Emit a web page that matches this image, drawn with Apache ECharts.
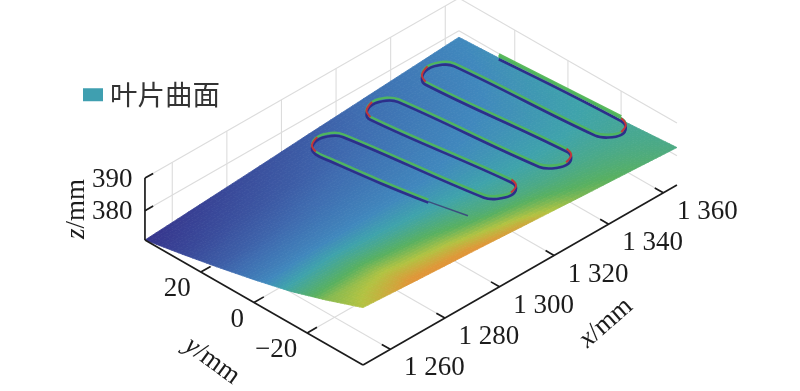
<!DOCTYPE html>
<html>
<head>
<meta charset="utf-8">
<style>html,body{margin:0;padding:0;background:#fff}#c{width:800px;height:391px;filter:blur(0.4px)}</style>
<script src="https://cdn.jsdelivr.net/npm/echarts@6/dist/echarts.min.js"></script>
</head>
<body>
<div id="c"></div>
<script>
// ---- data ----
var seriesName = '叶片曲面';
var meshX = [1250, 1270, 1290, 1310, 1330, 1350, 1365];
var meshY = [41, 27, 14, 0, -14, -27, -41];
var meshZ = [
  [371.0, 372.2, 373.4, 374.7, 375.9, 377.1, 378.0],
  [373.2, 374.0, 374.9, 375.8, 376.7, 377.7, 378.6],
  [375.4, 376.1, 376.7, 377.4, 378.0, 378.6, 379.2],
  [378.0, 378.3, 378.7, 379.0, 379.4, 379.7, 380.0],
  [380.9, 380.9, 380.9, 380.9, 380.8, 380.8, 380.8],
  [384.4, 383.9, 383.4, 382.9, 382.5, 382.0, 381.6],
  [388.6, 387.5, 386.5, 385.4, 384.3, 383.3, 382.5]
];
var meshShade = [
  [0.00, 0.06, 0.12, 0.18, 0.26, 0.34, 0.40],
  [0.08, 0.13, 0.18, 0.24, 0.31, 0.37, 0.43],
  [0.18, 0.22, 0.27, 0.31, 0.36, 0.41, 0.46],
  [0.34, 0.37, 0.38, 0.39, 0.42, 0.45, 0.49],
  [0.54, 0.57, 0.53, 0.50, 0.49, 0.50, 0.52],
  [0.71, 0.75, 0.70, 0.61, 0.57, 0.56, 0.55],
  [0.77, 0.90, 0.90, 0.84, 0.70, 0.63, 0.58]
];
var trackX = [1305,1304.6,1304.5,1304.8,1304.8,1306.3,1309.8,1313.3,1314.8,1314.8,1316.3,1319.8,1323.3,1324.8,1324.8,1326.3,1329.9,1333.5,1335,1335,1336.5,1340,1343.5,1345,1345,1346.6,1350.2,1354,1355.5,1355.5,1357,1360.2,1363.5,1365,1365];
var trackY = [-24,-9.5,8,27,33,36,37.6,36,33,-20,-23.3,-25,-23.3,-20,33,36,37.6,36,33,-20,-23.3,-25,-23.3,-20,33,36,37.6,36,33,-20,-23.3,-25,-23.3,-20,26];
var redRuns = [[4,6],[11,13],[14,16],[21,23],[24,26],[31,33]];
var xTicks = [1260, 1280, 1300, 1320, 1340, 1360];
var xTickLabels = ['1 260', '1 280', '1 300', '1 320', '1 340', '1 360'];
var yTicks = [20, 0, -20];
var yTickLabels = ['20', '0', '−20'];
var zTicks = [380, 390];
var zTickLabels = ['380', '390'];

// ---- view of the 3D box ----
var box = {xMin: 1250, xMax: 1365, yMin: -41, yMax: 41, zMin: 371, zMax: 390};
var view = {ox: 363, oy: 365, xx: 2.730, xy: -1.565, yx: -2.659, yy: -1.524, zy: -3.26};
var shadeStops = [
  [0.00, [54, 52, 140]], [0.25, [63, 108, 176]], [0.40, [64, 136, 189]],
  [0.50, [63, 163, 171]], [0.65, [88, 176, 96]], [0.77, [178, 195, 66]], [0.88, [224, 150, 56]], [1.00, [224, 150, 56]]
];
var FONT = '"Liberation Serif", "Times New Roman", serif';
var GRID = '#dcdcdc', INK = '#1c1c1c';

function project(x, y, z) {
  var dx = x - box.xMin, dy = y - box.yMin, dz = z - box.zMin;
  return [view.ox + dx * view.xx + dy * view.yx, view.oy + dx * view.xy + dy * view.yy + dz * view.zy];
}
function shadeColor(v) {
  for (var i = 1; i < shadeStops.length; i++) {
    if (v <= shadeStops[i][0]) {
      var a = shadeStops[i - 1], b = shadeStops[i], t = (v - a[0]) / (b[0] - a[0]);
      return 'rgb(' + [0, 1, 2].map(function (k) { return Math.round(a[1][k] + (b[1][k] - a[1][k]) * t); }).join(',') + ')';
    }
  }
  return 'rgb(224,150,56)';
}
function bilin(m, i, j, s, t) {
  return (m[j][i] * (1 - s) + m[j][i + 1] * s) * (1 - t) + (m[j + 1][i] * (1 - s) + m[j + 1][i + 1] * s) * t;
}
function cellOf(arr, v, desc) {
  for (var i = 0; i < arr.length - 1; i++) {
    var lo = arr[i], hi = arr[i + 1];
    if (desc ? v >= hi : v <= hi) return [i, (v - lo) / (hi - lo)];
  }
  return [arr.length - 2, 1];
}
function surfaceZ(x, y) {
  var a = cellOf(meshX, x, false), b = cellOf(meshY, y, true);
  return bilin(meshZ, a[0], b[0], a[1], b[1]);
}

// line segments in box coordinates
function seg(a, b, c, d, e, f) { return [[a, b, c], [d, e, f]]; }
var gridSegs = [];
xTicks.forEach(function (x) {
  gridSegs.push(seg(x, box.yMin, box.zMin, x, box.yMax, box.zMin));
  gridSegs.push(seg(x, box.yMax, box.zMin, x, box.yMax, box.zMax));
});
yTicks.forEach(function (y) {
  gridSegs.push(seg(box.xMin, y, box.zMin, box.xMax, y, box.zMin));
  gridSegs.push(seg(box.xMax, y, box.zMin, box.xMax, y, box.zMax));
});
zTicks.forEach(function (z) {
  gridSegs.push(seg(box.xMin, box.yMax, z, box.xMax, box.yMax, z));
  gridSegs.push(seg(box.xMax, box.yMax, z, box.xMax, box.yMin, z));
});
var axisSegs = [
  seg(box.xMin, box.yMax, box.zMin, box.xMin, box.yMin, box.zMin),
  seg(box.xMin, box.yMin, box.zMin, box.xMax, box.yMin, box.zMin),
  seg(box.xMin, box.yMax, box.zMin, box.xMin, box.yMax, box.zMax)
];
xTicks.forEach(function (x) { axisSegs.push(seg(x, box.yMin, box.zMin, x, box.yMin + 3.2, box.zMin)); });
yTicks.forEach(function (y) { axisSegs.push(seg(box.xMin, y, box.zMin, box.xMin + 3.6, y, box.zMin)); });
zTicks.forEach(function (z) { axisSegs.push(seg(box.xMin, box.yMax, z, box.xMin + 3, box.yMax, z)); });

function segSeries(segs, color, width) {
  return {
    type: 'custom', coordinateSystem: 'cartesian2d', silent: true, clip: false, animation: false,
    data: segs.map(function (s, i) { return [i]; }),
    renderItem: function (p, api) {
      var s = segs[api.value(0)];
      var a = api.coord(project(s[0][0], s[0][1], s[0][2])), b = api.coord(project(s[1][0], s[1][1], s[1][2]));
      return {type: 'line', shape: {x1: a[0], y1: a[1], x2: b[0], y2: b[1]}, style: {stroke: color, lineWidth: width, fill: null}};
    }
  };
}

// surface cells
var cells = [];
for (var j0 = 0; j0 < meshY.length - 1; j0++) for (var i0 = 0; i0 < meshX.length - 1; i0++) cells.push([i0, j0]);
var SUB = 10;
var surfaceSeries = {
  name: seriesName, type: 'custom', coordinateSystem: 'cartesian2d', silent: true, clip: false, animation: false,
  itemStyle: {color: '#3f9fb0'},
  data: cells,
  renderItem: function (p, api) {
    var i = api.value(0), j = api.value(1), kids = [];
    function pt(a, b) {
      var s = a / SUB, t = b / SUB;
      return api.coord(project(meshX[i] + (meshX[i + 1] - meshX[i]) * s, meshY[j] + (meshY[j + 1] - meshY[j]) * t, bilin(meshZ, i, j, s, t)));
    }
    for (var a = 0; a < SUB; a++) for (var b = 0; b < SUB; b++) {
      var c = shadeColor(bilin(meshShade, i, j, (a + 0.5) / SUB, (b + 0.5) / SUB));
      kids.push({type: 'polygon', shape: {points: [pt(a, b), pt(a + 1, b), pt(a + 1, b + 1), pt(a, b + 1)]}, style: {fill: c, stroke: c, lineWidth: 0.8}});
    }
    return {type: 'group', children: kids};
  }
};

// tool path laid on the surface
function trackSeries(from, to, lift, color, width) {
  var ids = [];
  for (var k = from; k <= to; k++) ids.push(k);
  return {
    type: 'custom', coordinateSystem: 'cartesian2d', silent: true, clip: false, animation: false,
    data: [[from]],
    renderItem: function (p, api) {
      var pts = ids.map(function (k) { return api.coord(project(trackX[k], trackY[k], surfaceZ(trackX[k], trackY[k]) + lift)); });
      return {type: 'polyline', shape: {points: pts, smooth: 0.4}, style: {stroke: color, lineWidth: width, fill: null, lineJoin: 'round'}};
    }
  };
}
var trackLayers = [
  trackSeries(0, 1, -0.1, '#3c4f7e', 1.4),
  trackSeries(33, 34, 1.0, '#5cba5c', 3.2),
  trackSeries(1, 34, 0.5, '#4fb45f', 2.4),
  trackSeries(1, 34, -0.4, '#2c2f8a', 2.6)
];
redRuns.forEach(function (r) { trackLayers.push(trackSeries(r[0], r[1], 0.5, '#c2343c', 2)); });

// text
var texts = [];
function addText(text, px, py, align, rot, rich) { texts.push({text: text, px: px, py: py, align: align, rot: rot || 0, rich: rich}); }
xTicks.forEach(function (x, i) {
  var q = project(x, box.yMin, box.zMin);
  addText(xTickLabels[i], q[0] + 44, q[1] + 19, 'center');
});
yTicks.forEach(function (y, i) {
  var q = project(box.xMin, y, box.zMin);
  addText(yTickLabels[i], q[0] - 10, q[1] + 17, 'right');
});
zTicks.forEach(function (z, i) {
  var q = project(box.xMin, box.yMax, z);
  addText(zTickLabels[i], q[0] - 12.5, q[1] + 1.5, 'right');
});
addText('{i|x}/mm', 606, 323, 'center', 0.72, true);
addText('{i|y}/mm', 212, 361, 'center', -0.63, true);
addText('{i|z}/mm', 77, 209, 'center', Math.PI / 2, true);

var textSeries = {
  type: 'custom', coordinateSystem: 'cartesian2d', silent: true, clip: false, animation: false,
  data: texts.map(function (t, i) { return [i]; }),
  renderItem: function (p, api) {
    var t = texts[api.value(0)], c = api.coord([t.px, t.py]);
    var st = {text: t.text, x: 0, y: 0, fill: INK, font: '27px ' + FONT, align: t.align, verticalAlign: 'middle'};
    if (t.rich) st.rich = {i: {fontStyle: 'italic', fontFamily: FONT, fontSize: 27, fill: INK, color: INK}};
    return {type: 'text', x: c[0], y: c[1], rotation: t.rot, style: st};
  }
};

var chart = echarts.init(document.getElementById('c'), null, {renderer: 'canvas'});
chart.setOption({
  animation: false,
  backgroundColor: '#fff',
  grid: {left: 0, right: 0, top: 0, bottom: 0},
  xAxis: {type: 'value', min: 0, max: 800, show: false},
  yAxis: {type: 'value', min: 0, max: 391, inverse: true, show: false},
  legend: {
    left: 78, top: 76, selectedMode: false, icon: 'rect', itemWidth: 20, itemHeight: 13,
    data: [{name: seriesName}],
    textStyle: {fontFamily: '"Noto Sans CJK SC"', fontSize: 27.5, color: '#333', padding: [0, 0, 0, 2]}
  },
  series: [segSeries(gridSegs, GRID, 1.1), surfaceSeries].concat(trackLayers, [segSeries(axisSegs, INK, 1.7), textSeries])
});
</script>
</body>
</html>
